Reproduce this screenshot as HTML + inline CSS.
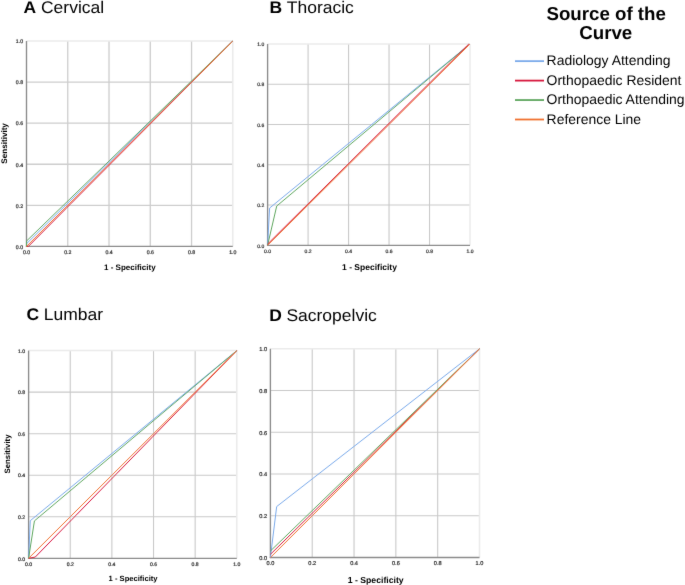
<!DOCTYPE html>
<html><head><meta charset="utf-8"><style>
html,body{margin:0;padding:0;background:#fff;}
body{width:685px;height:585px;overflow:hidden;}
svg{display:block;will-change:transform;text-rendering:geometricPrecision;font-family:"Liberation Sans",sans-serif;}
</style></head><body>
<svg width="685" height="585" viewBox="0 0 685 585">
<defs><filter id="bl" x="-5%" y="-5%" width="110%" height="110%"><feConvolveMatrix order="3" kernelMatrix="0.00524 0.06192 0.00524 0.06192 0.73137 0.06192 0.00524 0.06192 0.00524" edgeMode="none" preserveAlpha="false"/></filter></defs>
<rect width="685" height="585" fill="#fff"/>
<g filter="url(#bl)">
<line x1="67.76" y1="41" x2="67.76" y2="246.4" stroke="#cdcdcd" stroke-width="1.3"/>
<line x1="26.5" y1="205.32" x2="232.8" y2="205.32" stroke="#cdcdcd" stroke-width="1.3"/>
<line x1="109.02" y1="41" x2="109.02" y2="246.4" stroke="#cdcdcd" stroke-width="1.3"/>
<line x1="26.5" y1="164.24" x2="232.8" y2="164.24" stroke="#cdcdcd" stroke-width="1.3"/>
<line x1="150.28" y1="41" x2="150.28" y2="246.4" stroke="#cdcdcd" stroke-width="1.3"/>
<line x1="26.5" y1="123.16" x2="232.8" y2="123.16" stroke="#cdcdcd" stroke-width="1.3"/>
<line x1="191.54" y1="41" x2="191.54" y2="246.4" stroke="#cdcdcd" stroke-width="1.3"/>
<line x1="26.5" y1="82.08" x2="232.8" y2="82.08" stroke="#cdcdcd" stroke-width="1.3"/>
<line x1="232.8" y1="41" x2="232.8" y2="246.4" stroke="#ebebeb" stroke-width="1.5"/>
<line x1="26.5" y1="41" x2="232.8" y2="41" stroke="#ebebeb" stroke-width="1.5"/>
<line x1="26.5" y1="41" x2="26.5" y2="247" stroke="#8a8a8a" stroke-width="1.35"/>
<line x1="25.9" y1="246.4" x2="232.8" y2="246.4" stroke="#8a8a8a" stroke-width="1.35"/>
<polyline points="26.5,246.4 26.5,243.73 232.8,41" fill="none" stroke="#7aaaea" stroke-width="1.0"/>
<polyline points="26.5,246.4 28.36,246.4 232.8,41" fill="none" stroke="#d7163c" stroke-width="1.0"/>
<polyline points="26.5,246.4 26.5,241.06 232.8,41" fill="none" stroke="#5ea65e" stroke-width="1.0"/>
<polyline points="26.5,246.4 232.8,41" fill="none" stroke="#f07030" stroke-width="1.0"/>
<text transform="translate(23.1,248.67) scale(0.25)" font-size="20.8" text-anchor="end" fill="#2a2a2a" stroke="#2a2a2a" stroke-width="0.8">0.0</text>
<text transform="translate(26.5,254.34) scale(0.25)" font-size="20.8" text-anchor="middle" fill="#2a2a2a" stroke="#2a2a2a" stroke-width="0.8">0.0</text>
<text transform="translate(23.1,207.59) scale(0.25)" font-size="20.8" text-anchor="end" fill="#2a2a2a" stroke="#2a2a2a" stroke-width="0.8">0.2</text>
<text transform="translate(67.76,254.34) scale(0.25)" font-size="20.8" text-anchor="middle" fill="#2a2a2a" stroke="#2a2a2a" stroke-width="0.8">0.2</text>
<text transform="translate(23.1,166.51) scale(0.25)" font-size="20.8" text-anchor="end" fill="#2a2a2a" stroke="#2a2a2a" stroke-width="0.8">0.4</text>
<text transform="translate(109.02,254.34) scale(0.25)" font-size="20.8" text-anchor="middle" fill="#2a2a2a" stroke="#2a2a2a" stroke-width="0.8">0.4</text>
<text transform="translate(23.1,125.43) scale(0.25)" font-size="20.8" text-anchor="end" fill="#2a2a2a" stroke="#2a2a2a" stroke-width="0.8">0.6</text>
<text transform="translate(150.28,254.34) scale(0.25)" font-size="20.8" text-anchor="middle" fill="#2a2a2a" stroke="#2a2a2a" stroke-width="0.8">0.6</text>
<text transform="translate(23.1,84.35) scale(0.25)" font-size="20.8" text-anchor="end" fill="#2a2a2a" stroke="#2a2a2a" stroke-width="0.8">0.8</text>
<text transform="translate(191.54,254.34) scale(0.25)" font-size="20.8" text-anchor="middle" fill="#2a2a2a" stroke="#2a2a2a" stroke-width="0.8">0.8</text>
<text transform="translate(23.1,43.27) scale(0.25)" font-size="20.8" text-anchor="end" fill="#2a2a2a" stroke="#2a2a2a" stroke-width="0.8">1.0</text>
<text transform="translate(232.8,254.34) scale(0.25)" font-size="20.8" text-anchor="middle" fill="#2a2a2a" stroke="#2a2a2a" stroke-width="0.8">1.0</text>
<text x="129.8" y="269.9" font-size="8.0" font-weight="bold" text-anchor="middle" fill="#000">1 - Specificity</text>
<text transform="translate(7.4,143.4) rotate(-90)" x="0" y="0" font-size="8.1" font-weight="bold" text-anchor="middle" fill="#000">Sensitivity</text>
<text transform="translate(23.6,12.7) scale(1.035,1)" font-size="16.9" font-weight="bold" fill="#000">A</text>
<text transform="translate(41,12.7) scale(1.035,1)" font-size="16.9" fill="#000">Cervical</text>
<line x1="308.08" y1="44" x2="308.08" y2="245.3" stroke="#c9c9c9" stroke-width="1.1"/>
<line x1="267.6" y1="205.04" x2="470" y2="205.04" stroke="#c9c9c9" stroke-width="1.1"/>
<line x1="348.56" y1="44" x2="348.56" y2="245.3" stroke="#c9c9c9" stroke-width="1.1"/>
<line x1="267.6" y1="164.78" x2="470" y2="164.78" stroke="#c9c9c9" stroke-width="1.1"/>
<line x1="389.04" y1="44" x2="389.04" y2="245.3" stroke="#c9c9c9" stroke-width="1.1"/>
<line x1="267.6" y1="124.52" x2="470" y2="124.52" stroke="#c9c9c9" stroke-width="1.1"/>
<line x1="429.52" y1="44" x2="429.52" y2="245.3" stroke="#c9c9c9" stroke-width="1.1"/>
<line x1="267.6" y1="84.26" x2="470" y2="84.26" stroke="#c9c9c9" stroke-width="1.1"/>
<line x1="470" y1="44" x2="470" y2="245.3" stroke="#ebebeb" stroke-width="1.5"/>
<line x1="267.6" y1="44" x2="470" y2="44" stroke="#ebebeb" stroke-width="1.5"/>
<line x1="267.6" y1="44" x2="267.6" y2="245.9" stroke="#8a8a8a" stroke-width="1.35"/>
<line x1="267" y1="245.3" x2="470" y2="245.3" stroke="#8a8a8a" stroke-width="1.35"/>
<polyline points="267.6,245.3 269.62,208.06 470,44" fill="none" stroke="#7aaaea" stroke-width="1.0"/>
<polyline points="267.6,245.3 276.71,206.05 470,44" fill="none" stroke="#5ea65e" stroke-width="1.0"/>
<polyline points="267.6,245.3 470,44" fill="none" stroke="#f07030" stroke-width="1.0"/>
<polyline points="267.6,244.09 468.79,44" fill="none" stroke="#d7163c" stroke-width="1.0"/>
<text transform="translate(264.2,247.5) scale(0.25)" font-size="20" text-anchor="end" fill="#2a2a2a" stroke="#2a2a2a" stroke-width="0.8">0.0</text>
<text transform="translate(267.6,253.1) scale(0.25)" font-size="20" text-anchor="middle" fill="#2a2a2a" stroke="#2a2a2a" stroke-width="0.8">0.0</text>
<text transform="translate(264.2,207.24) scale(0.25)" font-size="20" text-anchor="end" fill="#2a2a2a" stroke="#2a2a2a" stroke-width="0.8">0.2</text>
<text transform="translate(308.08,253.1) scale(0.25)" font-size="20" text-anchor="middle" fill="#2a2a2a" stroke="#2a2a2a" stroke-width="0.8">0.2</text>
<text transform="translate(264.2,166.98) scale(0.25)" font-size="20" text-anchor="end" fill="#2a2a2a" stroke="#2a2a2a" stroke-width="0.8">0.4</text>
<text transform="translate(348.56,253.1) scale(0.25)" font-size="20" text-anchor="middle" fill="#2a2a2a" stroke="#2a2a2a" stroke-width="0.8">0.4</text>
<text transform="translate(264.2,126.72) scale(0.25)" font-size="20" text-anchor="end" fill="#2a2a2a" stroke="#2a2a2a" stroke-width="0.8">0.6</text>
<text transform="translate(389.04,253.1) scale(0.25)" font-size="20" text-anchor="middle" fill="#2a2a2a" stroke="#2a2a2a" stroke-width="0.8">0.6</text>
<text transform="translate(264.2,86.46) scale(0.25)" font-size="20" text-anchor="end" fill="#2a2a2a" stroke="#2a2a2a" stroke-width="0.8">0.8</text>
<text transform="translate(429.52,253.1) scale(0.25)" font-size="20" text-anchor="middle" fill="#2a2a2a" stroke="#2a2a2a" stroke-width="0.8">0.8</text>
<text transform="translate(264.2,46.2) scale(0.25)" font-size="20" text-anchor="end" fill="#2a2a2a" stroke="#2a2a2a" stroke-width="0.8">1.0</text>
<text transform="translate(470,253.1) scale(0.25)" font-size="20" text-anchor="middle" fill="#2a2a2a" stroke="#2a2a2a" stroke-width="0.8">1.0</text>
<text x="369.5" y="269.9" font-size="8.5" font-weight="bold" text-anchor="middle" fill="#000">1 - Specificity</text>
<text transform="translate(269.6,12.7) scale(1.035,1)" font-size="16.9" font-weight="bold" fill="#000">B</text>
<text transform="translate(286.8,12.7) scale(1.035,1)" font-size="16.9" fill="#000">Thoracic</text>
<line x1="70.24" y1="350.6" x2="70.24" y2="558.3" stroke="#c9c9c9" stroke-width="1.1"/>
<line x1="28.6" y1="516.76" x2="236.8" y2="516.76" stroke="#c9c9c9" stroke-width="1.1"/>
<line x1="111.88" y1="350.6" x2="111.88" y2="558.3" stroke="#c9c9c9" stroke-width="1.1"/>
<line x1="28.6" y1="475.22" x2="236.8" y2="475.22" stroke="#c9c9c9" stroke-width="1.1"/>
<line x1="153.52" y1="350.6" x2="153.52" y2="558.3" stroke="#c9c9c9" stroke-width="1.1"/>
<line x1="28.6" y1="433.68" x2="236.8" y2="433.68" stroke="#c9c9c9" stroke-width="1.1"/>
<line x1="195.16" y1="350.6" x2="195.16" y2="558.3" stroke="#c9c9c9" stroke-width="1.1"/>
<line x1="28.6" y1="392.14" x2="236.8" y2="392.14" stroke="#c9c9c9" stroke-width="1.1"/>
<line x1="236.8" y1="350.6" x2="236.8" y2="558.3" stroke="#ebebeb" stroke-width="1.5"/>
<line x1="28.6" y1="350.6" x2="236.8" y2="350.6" stroke="#ebebeb" stroke-width="1.5"/>
<line x1="28.6" y1="350.6" x2="28.6" y2="558.9" stroke="#8a8a8a" stroke-width="1.35"/>
<line x1="28" y1="558.3" x2="236.8" y2="558.3" stroke="#8a8a8a" stroke-width="1.35"/>
<polyline points="28.6,558.3 30.27,520.71 236.8,350.6" fill="none" stroke="#7aaaea" stroke-width="1.0"/>
<polyline points="28.6,558.3 35.26,557.05 236.8,350.6" fill="none" stroke="#d7163c" stroke-width="1.0"/>
<polyline points="28.6,558.3 34.43,520.91 236.8,350.6" fill="none" stroke="#5ea65e" stroke-width="1.0"/>
<polyline points="28.6,558.3 236.8,350.6" fill="none" stroke="#f07030" stroke-width="1.0"/>
<text transform="translate(25.2,560.54) scale(0.25)" font-size="20.4" text-anchor="end" fill="#2a2a2a" stroke="#2a2a2a" stroke-width="0.8">0.0</text>
<text transform="translate(28.6,566.17) scale(0.25)" font-size="20.4" text-anchor="middle" fill="#2a2a2a" stroke="#2a2a2a" stroke-width="0.8">0.0</text>
<text transform="translate(25.2,519) scale(0.25)" font-size="20.4" text-anchor="end" fill="#2a2a2a" stroke="#2a2a2a" stroke-width="0.8">0.2</text>
<text transform="translate(70.24,566.17) scale(0.25)" font-size="20.4" text-anchor="middle" fill="#2a2a2a" stroke="#2a2a2a" stroke-width="0.8">0.2</text>
<text transform="translate(25.2,477.46) scale(0.25)" font-size="20.4" text-anchor="end" fill="#2a2a2a" stroke="#2a2a2a" stroke-width="0.8">0.4</text>
<text transform="translate(111.88,566.17) scale(0.25)" font-size="20.4" text-anchor="middle" fill="#2a2a2a" stroke="#2a2a2a" stroke-width="0.8">0.4</text>
<text transform="translate(25.2,435.92) scale(0.25)" font-size="20.4" text-anchor="end" fill="#2a2a2a" stroke="#2a2a2a" stroke-width="0.8">0.6</text>
<text transform="translate(153.52,566.17) scale(0.25)" font-size="20.4" text-anchor="middle" fill="#2a2a2a" stroke="#2a2a2a" stroke-width="0.8">0.6</text>
<text transform="translate(25.2,394.38) scale(0.25)" font-size="20.4" text-anchor="end" fill="#2a2a2a" stroke="#2a2a2a" stroke-width="0.8">0.8</text>
<text transform="translate(195.16,566.17) scale(0.25)" font-size="20.4" text-anchor="middle" fill="#2a2a2a" stroke="#2a2a2a" stroke-width="0.8">0.8</text>
<text transform="translate(25.2,352.84) scale(0.25)" font-size="20.4" text-anchor="end" fill="#2a2a2a" stroke="#2a2a2a" stroke-width="0.8">1.0</text>
<text transform="translate(236.8,566.17) scale(0.25)" font-size="20.4" text-anchor="middle" fill="#2a2a2a" stroke="#2a2a2a" stroke-width="0.8">1.0</text>
<text x="133.1" y="580.5" font-size="7.6" font-weight="bold" text-anchor="middle" fill="#000">1 - Specificity</text>
<text transform="translate(10.1,454) rotate(-90)" x="0" y="0" font-size="7.8" font-weight="bold" text-anchor="middle" fill="#000">Sensitivity</text>
<text transform="translate(26.4,319.9) scale(1.035,1)" font-size="16.9" font-weight="bold" fill="#000">C</text>
<text transform="translate(43.7,319.9) scale(1.035,1)" font-size="16.9" fill="#000">Lumbar</text>
<line x1="312.22" y1="348.8" x2="312.22" y2="557.5" stroke="#c9c9c9" stroke-width="1.1"/>
<line x1="270.4" y1="515.76" x2="479.5" y2="515.76" stroke="#c9c9c9" stroke-width="1.1"/>
<line x1="354.04" y1="348.8" x2="354.04" y2="557.5" stroke="#c9c9c9" stroke-width="1.1"/>
<line x1="270.4" y1="474.02" x2="479.5" y2="474.02" stroke="#c9c9c9" stroke-width="1.1"/>
<line x1="395.86" y1="348.8" x2="395.86" y2="557.5" stroke="#c9c9c9" stroke-width="1.1"/>
<line x1="270.4" y1="432.28" x2="479.5" y2="432.28" stroke="#c9c9c9" stroke-width="1.1"/>
<line x1="437.68" y1="348.8" x2="437.68" y2="557.5" stroke="#c9c9c9" stroke-width="1.1"/>
<line x1="270.4" y1="390.54" x2="479.5" y2="390.54" stroke="#c9c9c9" stroke-width="1.1"/>
<line x1="479.5" y1="348.8" x2="479.5" y2="557.5" stroke="#ebebeb" stroke-width="1.5"/>
<line x1="270.4" y1="348.8" x2="479.5" y2="348.8" stroke="#ebebeb" stroke-width="1.5"/>
<line x1="270.4" y1="348.8" x2="270.4" y2="558.1" stroke="#8a8a8a" stroke-width="1.35"/>
<line x1="269.8" y1="557.5" x2="479.5" y2="557.5" stroke="#8a8a8a" stroke-width="1.35"/>
<polyline points="270.4,557.5 276.67,506.58 479.5,348.8" fill="none" stroke="#7aaaea" stroke-width="1.0"/>
<polyline points="270.4,554.37 479.5,348.8" fill="none" stroke="#d7163c" stroke-width="1.0"/>
<polyline points="270.4,551.03 479.5,348.8" fill="none" stroke="#5ea65e" stroke-width="1.0"/>
<polyline points="270.4,557.5 479.5,348.8" fill="none" stroke="#f07030" stroke-width="1.0"/>
<text transform="translate(267,559.92) scale(0.25)" font-size="22.4" text-anchor="end" fill="#2a2a2a" stroke="#2a2a2a" stroke-width="0.8">0.0</text>
<text transform="translate(270.4,565.13) scale(0.25)" font-size="22.4" text-anchor="middle" fill="#2a2a2a" stroke="#2a2a2a" stroke-width="0.8">0.0</text>
<text transform="translate(267,518.18) scale(0.25)" font-size="22.4" text-anchor="end" fill="#2a2a2a" stroke="#2a2a2a" stroke-width="0.8">0.2</text>
<text transform="translate(312.22,565.13) scale(0.25)" font-size="22.4" text-anchor="middle" fill="#2a2a2a" stroke="#2a2a2a" stroke-width="0.8">0.2</text>
<text transform="translate(267,476.44) scale(0.25)" font-size="22.4" text-anchor="end" fill="#2a2a2a" stroke="#2a2a2a" stroke-width="0.8">0.4</text>
<text transform="translate(354.04,565.13) scale(0.25)" font-size="22.4" text-anchor="middle" fill="#2a2a2a" stroke="#2a2a2a" stroke-width="0.8">0.4</text>
<text transform="translate(267,434.7) scale(0.25)" font-size="22.4" text-anchor="end" fill="#2a2a2a" stroke="#2a2a2a" stroke-width="0.8">0.6</text>
<text transform="translate(395.86,565.13) scale(0.25)" font-size="22.4" text-anchor="middle" fill="#2a2a2a" stroke="#2a2a2a" stroke-width="0.8">0.6</text>
<text transform="translate(267,392.96) scale(0.25)" font-size="22.4" text-anchor="end" fill="#2a2a2a" stroke="#2a2a2a" stroke-width="0.8">0.8</text>
<text transform="translate(437.68,565.13) scale(0.25)" font-size="22.4" text-anchor="middle" fill="#2a2a2a" stroke="#2a2a2a" stroke-width="0.8">0.8</text>
<text transform="translate(267,351.22) scale(0.25)" font-size="22.4" text-anchor="end" fill="#2a2a2a" stroke="#2a2a2a" stroke-width="0.8">1.0</text>
<text transform="translate(479.5,565.13) scale(0.25)" font-size="22.4" text-anchor="middle" fill="#2a2a2a" stroke="#2a2a2a" stroke-width="0.8">1.0</text>
<text x="375.7" y="582.5" font-size="8.7" font-weight="bold" text-anchor="middle" fill="#000">1 - Specificity</text>
<text transform="translate(269.2,321.3) scale(1.035,1)" font-size="16.9" font-weight="bold" fill="#000">D</text>
<text transform="translate(286.4,321.3) scale(1.035,1)" font-size="16.9" fill="#000">Sacropelvic</text>
<text x="606.2" y="20.3" font-size="18.7" font-weight="bold" text-anchor="middle" fill="#000">Source of the</text>
<text x="605.8" y="38.9" font-size="18.7" font-weight="bold" text-anchor="middle" fill="#000">Curve</text>
<line x1="515" y1="61.15" x2="544" y2="61.15" stroke="#7aaaea" stroke-width="1.8"/>
<text x="546.6" y="65" font-size="13.95" fill="#000">Radiology Attending</text>
<line x1="515" y1="80.6" x2="544" y2="80.6" stroke="#d7163c" stroke-width="1.8"/>
<text x="546.6" y="84.6" font-size="13.95" fill="#000">Orthopaedic Resident</text>
<line x1="515" y1="100.05" x2="544" y2="100.05" stroke="#5ea65e" stroke-width="1.8"/>
<text x="546.6" y="104.2" font-size="13.95" fill="#000">Orthopaedic Attending</text>
<line x1="515" y1="119.5" x2="544" y2="119.5" stroke="#f07030" stroke-width="1.8"/>
<text x="546.6" y="123.8" font-size="13.95" fill="#000">Reference Line</text>
</g>
</svg>
</body></html>
